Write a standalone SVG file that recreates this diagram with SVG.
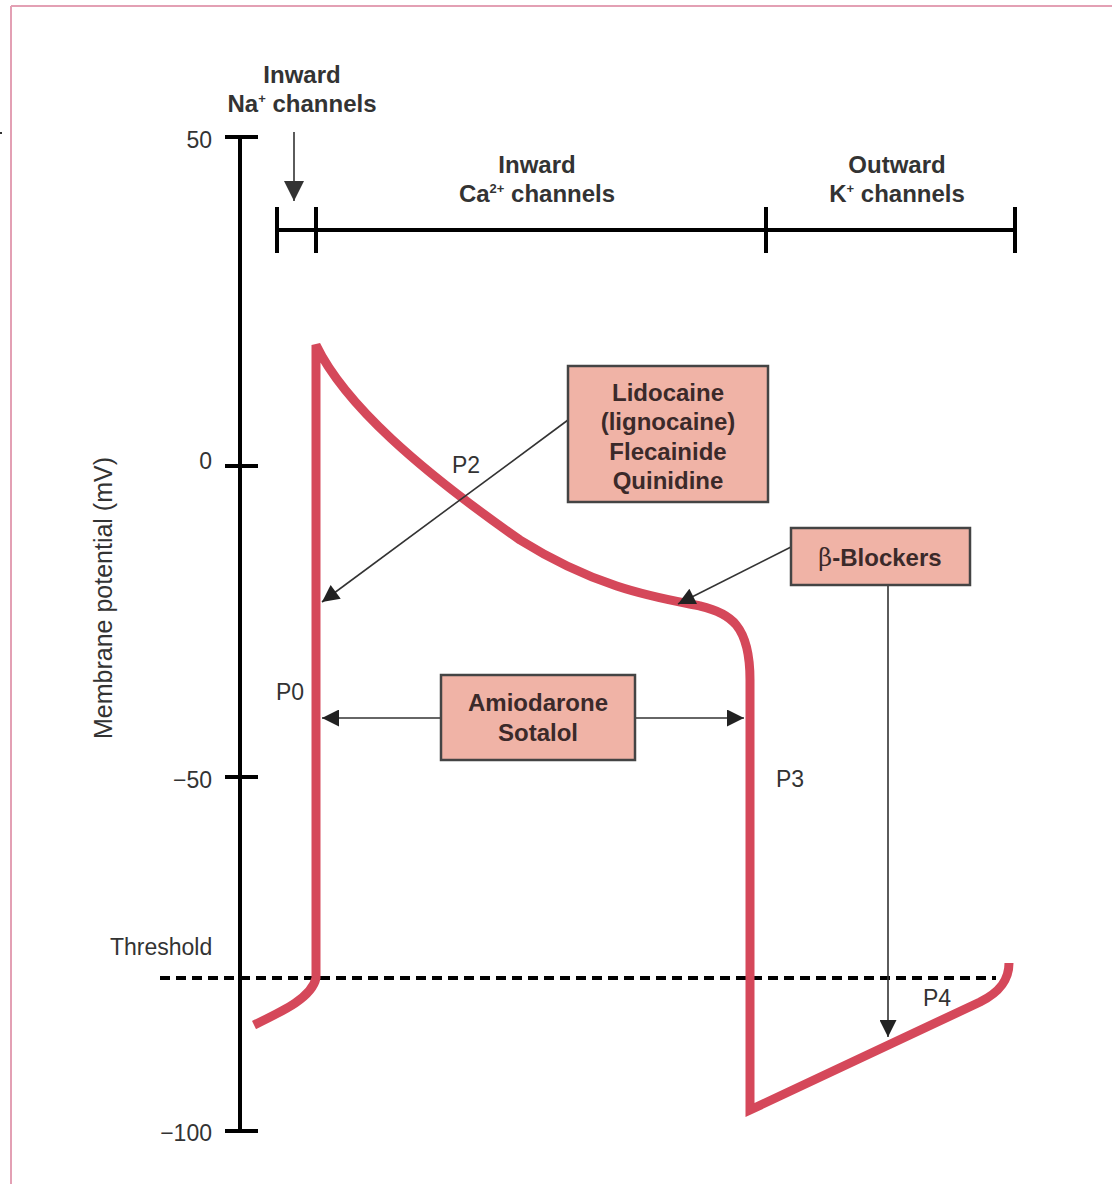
<svg xmlns="http://www.w3.org/2000/svg" width="1112" height="1190" viewBox="0 0 1112 1190">
<style>
.t{font-family:"Liberation Sans",Arial,sans-serif;fill:#333;font-size:23px}
.b{font-weight:bold;font-size:24px}
.yl{font-size:25px}
.bx{fill:#f0b3a6;stroke:#444;stroke-width:2.5}
.bt{font-family:"Liberation Sans",Arial,sans-serif;font-weight:bold;font-size:24px;fill:#3b2a2a;text-anchor:middle}
.ax{stroke:#000;stroke-width:4;fill:none}
.c{stroke:#333;stroke-width:1.6;fill:none}
</style>
<defs>
<marker id="ah" viewBox="0 0 10 10" refX="10" refY="5" markerUnits="userSpaceOnUse" markerWidth="18" markerHeight="17" orient="auto">
<path d="M0,0 L10,5 L0,10 Z" fill="#222"/>
</marker>
<marker id="ahb" viewBox="0 0 10 10" refX="10" refY="5" markerUnits="userSpaceOnUse" markerWidth="20" markerHeight="20" orient="auto">
<path d="M0,0 L10,5 L0,10 Z" fill="#333"/>
</marker>
</defs>
<g id="frame">
<line x1="11" y1="6" x2="1112" y2="6" stroke="#e3a0b4" stroke-width="2"/>
<line x1="11" y1="6" x2="11" y2="1184" stroke="#e3a0b4" stroke-width="2"/>
<rect x="0" y="132" width="2" height="2" fill="#333"/>
</g>
<g id="axis">
<line class="ax" x1="240" y1="135" x2="240" y2="1133"/>
<line class="ax" x1="225" y1="137" x2="258" y2="137"/>
<line class="ax" x1="225" y1="466" x2="258" y2="466"/>
<line class="ax" x1="225" y1="777" x2="258" y2="777"/>
<line class="ax" x1="225" y1="1131" x2="258" y2="1131"/>
<text class="t" x="212" y="148" text-anchor="end">50</text>
<text class="t" x="212" y="469" text-anchor="end">0</text>
<text class="t" x="212" y="788" text-anchor="end">−50</text>
<text class="t" x="212" y="1141" text-anchor="end">−100</text>
<text class="t yl" x="112" y="598" text-anchor="middle" transform="rotate(-90 112 598)">Membrane potential (mV)</text>
<text class="t" x="110" y="955">Threshold</text>
</g>
<g id="channels">
<line class="ax" x1="277" y1="230" x2="1015" y2="230"/>
<line class="ax" x1="277" y1="207" x2="277" y2="253"/>
<line class="ax" x1="316" y1="207" x2="316" y2="253"/>
<line class="ax" x1="766" y1="207" x2="766" y2="253"/>
<line class="ax" x1="1015" y1="207" x2="1015" y2="253"/>
<text class="t b" x="302" y="83" text-anchor="middle">Inward</text>
<text class="t b" x="302" y="112" text-anchor="middle">Na<tspan font-size="13" dy="-9">+</tspan><tspan dy="9"> channels</tspan></text>
<text class="t b" x="537" y="173" text-anchor="middle">Inward</text>
<text class="t b" x="537" y="202" text-anchor="middle">Ca<tspan font-size="13" dy="-9">2+</tspan><tspan dy="9"> channels</tspan></text>
<text class="t b" x="897" y="173" text-anchor="middle">Outward</text>
<text class="t b" x="897" y="202" text-anchor="middle">K<tspan font-size="13" dy="-9">+</tspan><tspan dy="9"> channels</tspan></text>
</g>
<g id="threshold">
<line x1="160" y1="978" x2="996" y2="978" stroke="#000" stroke-width="4" stroke-dasharray="10,6"/>
</g>
<g id="potential">
<path d="M254,1025 C285,1010 312,997 316,978 L316,345 C345,405 420,470 520,540 C600,590 660,598 700,606 C730,613 750,625 750,680 L750,1110 L980,1002 C1000,992 1009,980 1009,963" fill="none" stroke="#d5485a" stroke-width="9" stroke-linejoin="miter"/>
<text class="t" x="466" y="473" text-anchor="middle">P2</text>
<text class="t" x="290" y="700" text-anchor="middle">P0</text>
<text class="t" x="790" y="787" text-anchor="middle">P3</text>
<text class="t" x="937" y="1006" text-anchor="middle">P4</text>
</g>
<g id="connectors">
<line class="c" x1="294" y1="132" x2="294" y2="201" stroke-width="2" marker-end="url(#ahb)"/>
<line class="c" x1="568" y1="420" x2="322" y2="602" marker-end="url(#ah)"/>
<line class="c" x1="791" y1="547" x2="678" y2="604" marker-end="url(#ah)"/>
<line class="c" x1="888" y1="586" x2="888" y2="1037" marker-end="url(#ah)"/>
<line class="c" x1="441" y1="718" x2="322" y2="718" stroke-width="2" marker-end="url(#ah)"/>
<line class="c" x1="635" y1="718" x2="744" y2="718" stroke-width="2" marker-end="url(#ah)"/>
</g>
<g id="lidocaine">
<rect class="bx" x="568" y="366" width="200" height="136"/>
<text class="bt" x="668" y="401">Lidocaine</text>
<text class="bt" x="668" y="430">(lignocaine)</text>
<text class="bt" x="668" y="460">Flecainide</text>
<text class="bt" x="668" y="489">Quinidine</text>
</g>
<g id="betablockers">
<rect class="bx" x="791" y="528" width="179" height="57"/>
<text class="bt" x="880" y="566"><tspan font-family="'DejaVu Serif','Liberation Serif',serif" font-weight="normal">β</tspan>-Blockers</text>
</g>
<g id="amiodarone">
<rect class="bx" x="441" y="675" width="194" height="85"/>
<text class="bt" x="538" y="711">Amiodarone</text>
<text class="bt" x="538" y="741">Sotalol</text>
</g>
</svg>
